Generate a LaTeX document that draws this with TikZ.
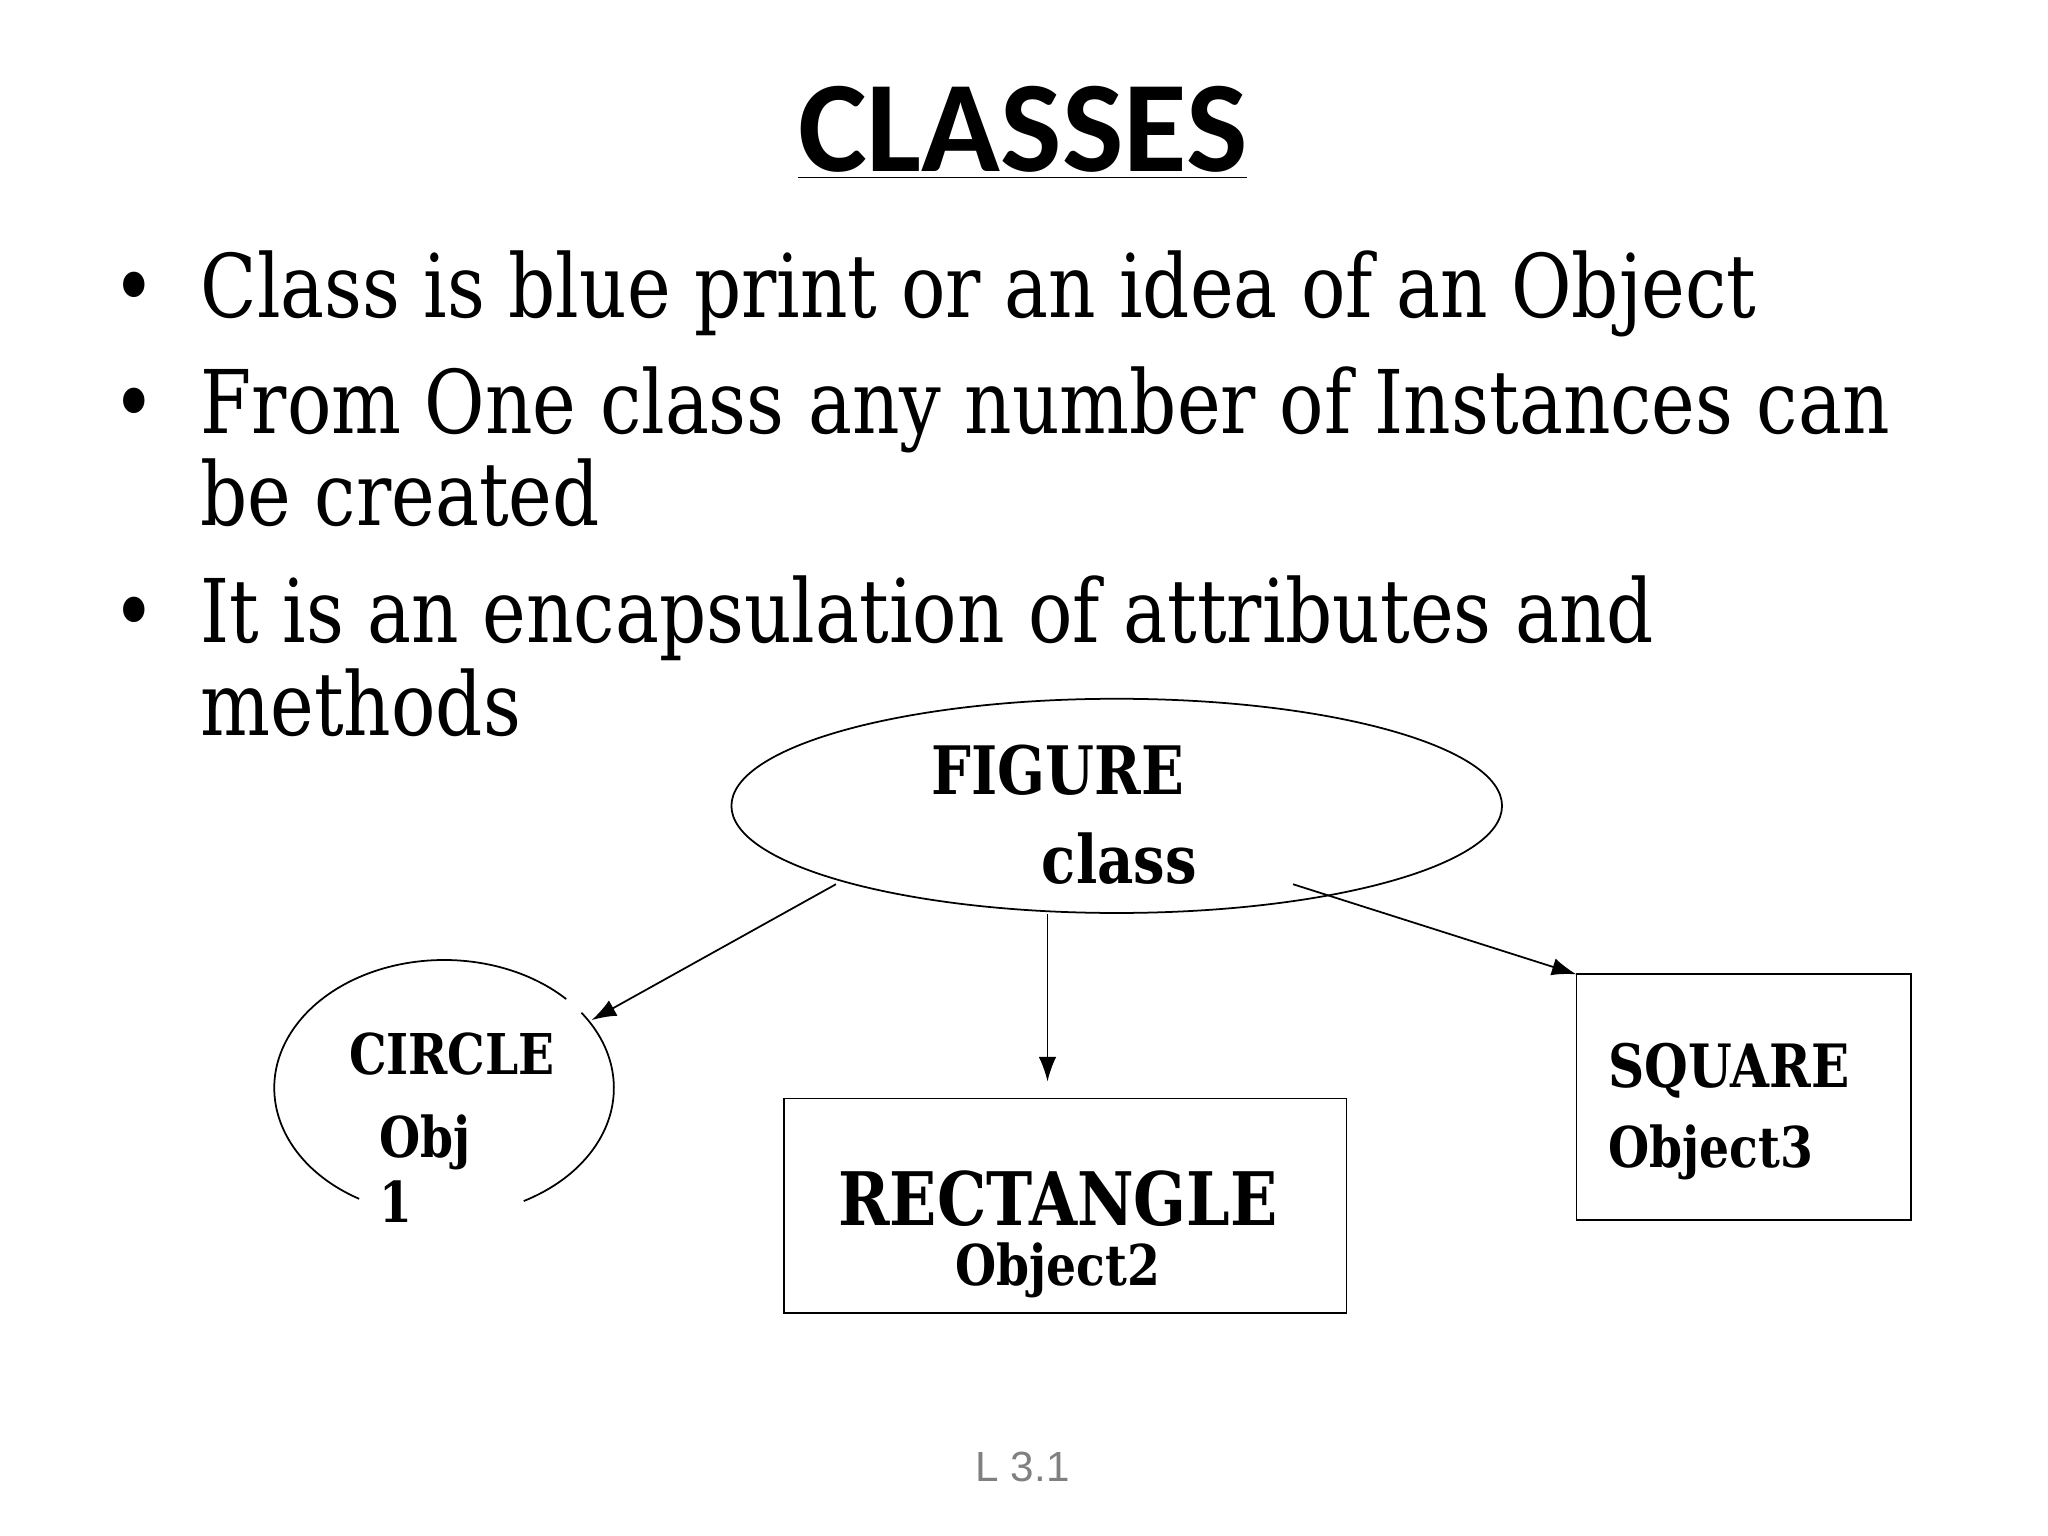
\documentclass[tikz,border=0pt]{standalone}
\usepackage{fontspec}
\setmainfont[FakeStretch=0.84]{DejaVu Serif}
\newfontfamily\titlefont{Carlito}
\newfontfamily\footfont{Liberation Sans}
\usetikzlibrary{arrows.meta}
\begin{document}
\begin{tikzpicture}[x=0.013061cm,y=-0.013061cm,
  bul/.style={anchor=base west,font=\fontsize{25}{30}\selectfont,inner sep=0},
  lab/.style={font=\bfseries\fontsize{#1}{#1}\selectfont,inner sep=0},
  arr/.style={-{Latex[length=7pt,width=5pt]},line width=0.5pt}]
\useasboundingbox (0,0) rectangle (1568,1176);
\node[inner sep=0,font=\titlefont\bfseries\fontsize{37}{37}\selectfont] (t) at (783,102) {\underline{CLASSES}};
\foreach \y/\tx [count=\i] in {243/{Class is blue print or an idea of an Object},332/{From One class any number of Instances can},402/{be created},492/{It is an encapsulation of attributes and},563/{methods}}
  \node[bul] (b\i) at (153,\y) {\tx};
\foreach \y [count=\i] in {243,332,492}
  \node[bul,anchor=base] (d\i) at (103,\y) {•};
% ellipse
\draw[line width=0.5pt] (855,617) ellipse [x radius=295, y radius=82];
\node[lab=19] (f1) at (810,590) {FIGURE};
\node[lab=19] (f2) at (857,657) {class};
% circle
\draw[line width=0.5pt] (340,833) ++(-36:130 and 98) arc[start angle=-36,end angle=62,x radius=130,y radius=98];
\draw[line width=0.5pt] (340,833) ++(120:130 and 98) arc[start angle=120,end angle=316,x radius=130,y radius=98];
\node[lab=16] (c1) at (346,807) {CIRCLE};
\node[lab=16,anchor=west] (c2) at (290,875) {Obj};
\node[lab=16,anchor=west] (c3) at (290,920) {1};
% rectangle
\draw[line width=0.5pt] (600,841) rectangle (1031,1005);
\node[lab=21] (r1) at (810,918) {RECTANGLE};
\node[lab=16] (r2) at (810,973) {Object2};
% square
\draw[line width=0.5pt] (1207,746) rectangle (1463,934);
\node[lab=17,anchor=west] (s1) at (1231,820) {SQUARE};
\node[lab=16,anchor=west] (s2) at (1231,882) {Object3};
% arrows
\coordinate (a1) at (640,677); \coordinate (e1) at (453,781);
\coordinate (a2) at (802,700); \coordinate (e2) at (802,828);
\coordinate (a3) at (990,677); \coordinate (e3) at (1207,746);
\draw[arr] (a1) -- (e1);
\draw[arr] (a2) -- (e2);
\draw[arr] (a3) -- (e3);
\node[font=\footfont\fontsize{12}{12}\selectfont,text=gray] (ft) at (783,1123) {L 3.1};
\end{tikzpicture}
\end{document}
